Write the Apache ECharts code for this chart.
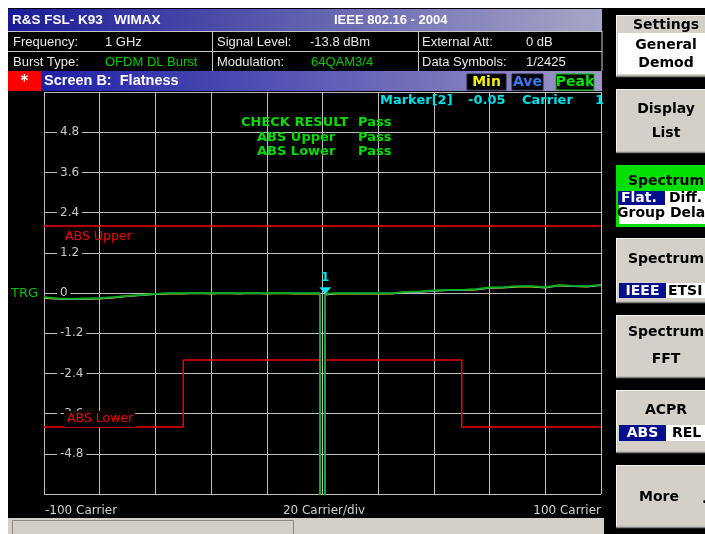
<!DOCTYPE html>
<html><head><meta charset="utf-8">
<script src="https://cdn.jsdelivr.net/npm/echarts@6/dist/echarts.min.js"></script>
<style>html,body{margin:0;padding:0;background:#fff;overflow:hidden}#c{width:705px;height:534px;}</style>
</head><body><div id="c"></div><script>
// ---- data ----
const carriers = [-100,-95,-90,-85,-80,-75,-70,-65,-60,-55,-50,-45,-40,-35,-30,-25,-20,-15,-10,-5,-1,0,1,5,10,15,20,25,30,35,40,45,50,55,60,65,70,75,80,85,90,95,100];
const peakValues = [-0.12,-0.16,-0.17,-0.16,-0.15,-0.12,-0.08,-0.05,-0.02,0,0,0.01,0,0.01,0,0.01,0,0.01,0,0,0,-60,-0.02,0,0,0,0,0,0.04,0.05,0.08,0.1,0.1,0.12,0.17,0.18,0.21,0.21,0.18,0.24,0.22,0.21,0.25];
const aveValues  = [-0.13,-0.17,-0.18,-0.17,-0.16,-0.13,-0.09,-0.06,-0.03,-0.01,-0.01,0,-0.01,0,-0.01,0,-0.01,0,-0.01,-0.01,-0.01,-60,-0.04,-0.01,-0.01,-0.01,-0.01,-0.01,0.03,0.04,0.07,0.09,0.09,0.11,0.16,0.17,0.2,0.2,0.17,0.23,0.21,0.2,0.24];
const minValues  = [-0.15,-0.18,-0.19,-0.18,-0.17,-0.14,-0.1,-0.07,-0.04,-0.02,-0.02,-0.01,-0.02,-0.01,-0.02,-0.01,-0.02,-0.01,-0.02,-0.02,-0.02,-60,-0.05,-0.02,-0.02,-0.02,-0.02,-0.02,0.02,0.03,0.06,0.08,0.08,0.1,0.15,0.16,0.19,0.19,0.16,0.22,0.2,0.19,0.23];
const upperCarriers = [-100, 100];
const upperValues = [2, 2];
const lowerCarriers = [-100,-50,-50,-1,-1,1,1,50,50,100];
const lowerValues = [-4,-4,-2,-2,-60,-60,-2,-2,-4,-4];
const markerCarrier = 1;
const markerValue = -0.05;
const yMin = -6, yMax = 6, yStep = 1.2;
const xMin = -100, xMax = 100, xStep = 20;
const xAxisTexts = ['-100 Carrier', '20 Carrier/div', '100 Carrier'];

const pairs = (xs, ys) => xs.map((x, i) => [x, ys[i]]);

// ---- graphic helpers ----
const T = (x, y, text, font, fill, align, extra) => ({
  type: 'text', x: x, y: y, z: 100,
  style: Object.assign({ text: text, font: font, fill: fill, textAlign: align || 'left', textVerticalAlign: 'middle' }, extra || {})
});
const R = (x, y, w, h, fill, extra) => ({
  type: 'rect', z: 90, shape: { x: x, y: y, width: w, height: h },
  style: Object.assign({ fill: fill }, extra || {})
});
const L = (x1, y1, x2, y2, color, w) => ({
  type: 'line', z: 95, shape: { x1: x1, y1: y1, x2: x2, y2: y2 },
  style: { stroke: color, lineWidth: w || 1 }
});
const grad = (c0, c1) => new echarts.graphic.LinearGradient(0, 0, 1, 0, [{ offset: 0, color: c0 }, { offset: 1, color: c1 }]);

const HF = '13px "Liberation Sans", Arial, sans-serif';
const SK = 'bold 14px "DejaVu Sans", Verdana, sans-serif';
const PF = 'bold 13px "DejaVu Sans", Verdana, sans-serif';
const TICKF = '12px "DejaVu Sans", Verdana, sans-serif';
const W = '#e8e8e8', G = '#00c800';
const RED = '#f00000';

function softkey(y, h) {
  return [
    R(616, y, 95, h, '#d4d0c8'),
    L(616.5, y, 616.5, y + h, '#f4f4f4', 1),
    L(616, y + 0.5, 705, y + 0.5, '#f4f4f4', 1),
    L(616, y + h - 0.5, 705, y + h - 0.5, '#808080', 1.5)
  ];
}

const g = [];
// white outer margins
g.push(R(0, 0, 705, 8, '#ffffff'));
g.push(R(0, 0, 8, 534, '#ffffff'));
// title bar
g.push(R(8, 9, 594, 22, grad('#1a1a98', '#a8a6c6')));
g.push(T(12, 20, 'R&S FSL- K93   WIMAX', 'bold 13.5px "Liberation Sans", Arial, sans-serif', '#ffffff'));
g.push(T(334, 20, 'IEEE 802.16 - 2004', 'bold 13px "Liberation Sans", Arial, sans-serif', '#ffffff'));
// info table
g.push(L(8, 31.5, 602, 31.5, '#c8c8c8', 1));
g.push(L(8, 51.5, 602, 51.5, '#c8c8c8', 1));
g.push(L(212.5, 31, 212.5, 71, '#c8c8c8', 1));
g.push(L(418.5, 31, 418.5, 71, '#c8c8c8', 1));
g.push(L(602, 31, 602, 71, '#c8c8c8', 1));
g.push(T(13, 42, 'Frequency:', HF, W));
g.push(T(105, 42, '1 GHz', HF, W));
g.push(T(217, 42, 'Signal Level:', HF, W));
g.push(T(310, 42, '-13.8 dBm', HF, W));
g.push(T(422, 42, 'External Att:', HF, W));
g.push(T(526, 42, '0 dB', HF, W));
g.push(T(13, 62, 'Burst Type:', HF, W));
g.push(T(105, 62, 'OFDM DL Burst', HF, G));
g.push(T(217, 62, 'Modulation:', HF, W));
g.push(T(311, 62, '64QAM3/4', HF, G));
g.push(T(422, 62, 'Data Symbols:', HF, W));
g.push(T(526, 62, '1/2425', HF, W));
// screen bar
g.push(R(8, 71, 33, 20, '#ff0000'));
g.push(R(41, 71, 561, 20, grad('#2020a8', '#9c98c4')));
g.push(T(24.5, 82, '*', 'bold 15px "DejaVu Sans", sans-serif', '#ffffff', 'center'));
g.push(T(44, 81, 'Screen B:  Flatness', 'bold 14.5px "Liberation Sans", Arial, sans-serif', '#ffffff'));
g.push(R(467, 74, 39, 16, '#000000', { stroke: '#202040', lineWidth: 1 }));
g.push(T(486.5, 82, 'Min', 'bold 14px "DejaVu Sans", sans-serif', '#f0f000', 'center'));
g.push(R(512, 74, 31, 16, '#000000', { stroke: '#202040', lineWidth: 1 }));
g.push(T(527.5, 82, 'Ave', 'bold 14px "DejaVu Sans", sans-serif', '#3a78ff', 'center'));
g.push(R(556, 74, 38, 16, '#000000', { stroke: '#00c000', lineWidth: 1 }));
g.push(T(575, 82, 'Peak', 'bold 14px "DejaVu Sans", sans-serif', '#00e000', 'center'));
// plot annotations
g.push(T(380, 101, 'Marker[2]', PF, '#00e0e8'));
g.push(T(468, 101, '-0.05', PF, '#00e0e8'));
g.push(T(522, 101, 'Carrier', PF, '#00e0e8'));
g.push(T(595, 101, '1', PF, '#00e0e8'));
g.push(T(241, 123, 'CHECK RESULT', PF, '#00dd00'));
g.push(T(358, 123, 'Pass', PF, '#00dd00'));
g.push(T(257, 138, 'ABS Upper', PF, '#00dd00'));
g.push(T(358, 138, 'Pass', PF, '#00dd00'));
g.push(T(257, 152, 'ABS Lower', PF, '#00dd00'));
g.push(T(358, 152, 'Pass', PF, '#00dd00'));
g.push(T(65, 237, 'ABS Upper', '12.5px "DejaVu Sans", sans-serif', RED));
g.push(T(65, 419, 'ABS Lower', '12.5px "DejaVu Sans", sans-serif', RED, 'left', { backgroundColor: '#000000', padding: [2, 2, 1, 2] }));
g.push(T(11, 294, 'TRG', '13px "DejaVu Sans", sans-serif', '#00c000'));
g.push(T(45, 511, xAxisTexts[0], TICKF, '#d0d0d0'));
g.push(T(324, 511, xAxisTexts[1], TICKF, '#d0d0d0', 'center'));
g.push(T(601, 511, xAxisTexts[2], TICKF, '#d0d0d0', 'right'));
// bottom status bar
g.push(R(8, 518, 596, 16, '#d4d0c8'));
g.push(R(12.5, 520.5, 281, 14, '#d4d0c8', { stroke: '#8c8a84', lineWidth: 1 }));
// softkeys
g.push(...softkey(15, 62));
g.push(R(618, 33, 90, 41, '#ffffff'));
g.push(T(666, 25, 'Settings', SK, '#000', 'center'));
g.push(T(666, 45, 'General', SK, '#000', 'center'));
g.push(T(666, 63, 'Demod', SK, '#000', 'center'));

g.push(...softkey(89, 64));
g.push(T(666, 109, 'Display', SK, '#000', 'center'));
g.push(T(666, 133, 'List', SK, '#000', 'center'));

g.push(R(616, 165, 95, 62, '#00e000'));
g.push(R(619, 191, 90, 33, '#ffffff'));
g.push(R(618, 191, 47, 14, '#06108c'));
g.push(T(666, 181, 'Spectrum', SK, '#000', 'center'));
g.push(T(621, 198.5, 'Flat.', SK, '#ffffff'));
g.push(T(669, 198.5, 'Diff.', SK, '#000'));
g.push(T(617, 213.5, 'Group Dela', SK, '#000'));

g.push(...softkey(238, 65));
g.push(R(619, 283, 90, 15, '#ffffff'));
g.push(R(619, 283, 47, 15, '#06108c'));
g.push(T(666, 259, 'Spectrum', SK, '#000', 'center'));
g.push(T(642.5, 291, 'IEEE', SK, '#ffffff', 'center'));
g.push(T(668, 291, 'ETSI', SK, '#000'));

g.push(...softkey(315, 63));
g.push(T(666, 332, 'Spectrum', SK, '#000', 'center'));
g.push(T(666, 359, 'FFT', SK, '#000', 'center'));

g.push(...softkey(390, 63));
g.push(R(619, 425, 90, 16, '#ffffff'));
g.push(R(619, 425, 47, 16, '#06108c'));
g.push(T(666, 410, 'ACPR', SK, '#000', 'center'));
g.push(T(642.5, 433, 'ABS', SK, '#ffffff', 'center'));
g.push(T(672, 433, 'REL', SK, '#000'));

g.push(...softkey(465, 63));
g.push(T(659, 497, 'More', SK, '#000', 'center'));
g.push(T(702, 499, '.', SK, '#000'));

const chart = echarts.init(document.getElementById('c'), null, { renderer: 'canvas' });
const gridColor = '#bdbdbd';
const fmtY = v => (Math.abs(v) > yMax - 0.01) ? '' : (Math.abs(v) < 1e-9 ? '0' : (Math.round(v * 10) / 10).toFixed(1));
const lineSeries = (name, xs, ys, color, w, extra) => Object.assign({
  name: name, type: 'line', data: pairs(xs, ys), showSymbol: false, symbol: 'none',
  clip: true, silent: true, animation: false,
  lineStyle: { color: color, width: w }
}, extra || {});

chart.setOption({
  backgroundColor: '#000000',
  animation: false,
  grid: { left: 44, right: 104, top: 92, bottom: 40, containLabel: false },
  xAxis: {
    type: 'value', min: xMin, max: xMax, interval: xStep,
    axisLine: { show: false }, axisTick: { show: false }, axisLabel: { show: false },
    splitLine: { show: true, lineStyle: { color: gridColor, width: 1 } }
  },
  yAxis: [{
    type: 'value', min: yMin, max: yMax, interval: yStep,
    axisLine: { show: false }, axisTick: { show: false }, axisLabel: { show: false },
    splitLine: { show: true, lineStyle: { color: gridColor, width: 1 } }
  }, {
    type: 'value', min: yMin, max: yMax, interval: yStep, position: 'left', offset: 0,
    axisLine: { show: false }, axisTick: { show: false }, splitLine: { show: false },
    axisLabel: {
      show: true, inside: true, margin: 13, formatter: fmtY,
      color: '#c8c8c8', fontFamily: '"DejaVu Sans", Verdana, sans-serif', fontSize: 12,
      backgroundColor: '#000000', padding: [0, 3, 0, 3]
    }
  }],
  series: [
    lineSeries('ABS Upper', upperCarriers, upperValues, RED, 1.5),
    lineSeries('ABS Lower', lowerCarriers, lowerValues, RED, 1.5),
    lineSeries('Min', carriers, minValues, '#e8e800', 1.5),
    lineSeries('Ave', carriers, aveValues, '#2080ff', 1.5),
    lineSeries('Peak', carriers, peakValues, '#00b400', 1.5, {
      markPoint: {
        silent: true, animation: false,
        symbol: 'triangle', symbolRotate: 180, symbolSize: [12, 7], symbolOffset: [0, -4],
        itemStyle: { color: '#00e8f0' },
        label: { show: true, position: 'top', distance: 3, formatter: '1', color: '#00e8f0',
                 fontFamily: '"DejaVu Sans", sans-serif', fontSize: 12, fontWeight: 'bold' },
        data: [{ coord: [markerCarrier, markerValue] }]
      }
    })
  ],
  graphic: { elements: g }
});
</script></body></html>
